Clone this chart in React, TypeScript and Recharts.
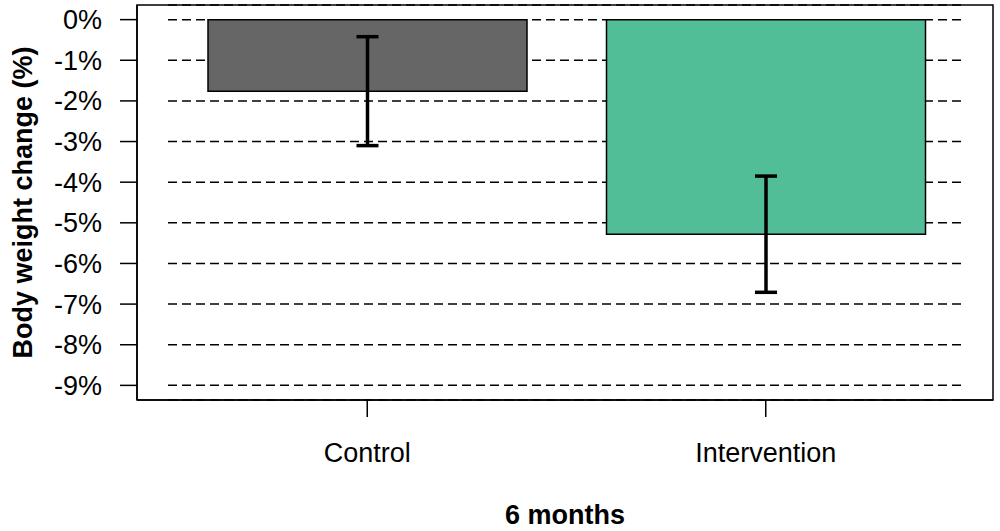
import { BarChart, Bar, XAxis, YAxis, CartesianGrid, ErrorBar, Cell } from "recharts";

const groups = ["Control", "Intervention"];
const meanChange = [-1.76, -5.28];
const errorHalf = [1.34, 1.43];
const yTicks = [0, -1, -2, -3, -4, -5, -6, -7, -8, -9];

const barColors = ["#666666", "#52BE98"];
const FONT = "'Liberation Sans', Arial, sans-serif";
const PAD_L = 31;
const PAD_R = 28;

const data = groups.map((g, i) => ({ name: g, value: meanChange[i], err: errorHalf[i] }));

// dashed grid lines span only the padded band range; the plot box is drawn once with the first line
const gridLine = (p: any) => (
  <g key={p.key}>
    {p.index === 0 && p.height != null ? (
      <rect x={p.x} y={p.y} width={p.width} height={p.height} fill="none" stroke="#000" strokeWidth={1.5} />
    ) : null}
    <line
      x1={p.x1 + PAD_L}
      x2={p.x2 - PAD_R}
      y1={p.y1}
      y2={p.y2}
      stroke="#000"
      strokeWidth={1.5}
      strokeDasharray="9 5"
    />
  </g>
);

export default function App() {
  return (
    <div style={{ width: 1000, height: 531, background: "#fff", fontFamily: FONT }}>
      <style>{`body{margin:0;background:#fff}`}</style>
      <BarChart
        width={1000}
        height={531}
        data={data}
        margin={{ top: 5, right: 7, bottom: 0, left: 0 }}
        barCategoryGap={0}
      >
        <CartesianGrid vertical={false} horizontal={gridLine} />
        <XAxis
          dataKey="name"
          height={131}
          padding={{ left: PAD_L, right: PAD_R }}
          axisLine={{ stroke: "#000", strokeWidth: 1.5 }}
          tickLine={{ stroke: "#000", strokeWidth: 1.5 }}
          tickSize={17}
          tickMargin={26}
          tick={{ fill: "#000", fontSize: 27, fontFamily: FONT }}
          label={{
            content: (props: any) => {
              const vb = props.viewBox;
              return (
                <text
                  x={vb.x + vb.width / 2}
                  y={524}
                  textAnchor="middle"
                  fontSize={27}
                  fontWeight="bold"
                  fontFamily={FONT}
                  fill="#000"
                >
                  6 months
                </text>
              );
            },
          }}
        />
        <YAxis
          width={137}
          domain={[-9.36, 0.36]}
          ticks={yTicks}
          interval={0}
          allowDataOverflow
          tickFormatter={(v: number) => `${v}%`}
          axisLine={{ stroke: "#000", strokeWidth: 1.5 }}
          tickLine={{ stroke: "#000", strokeWidth: 1.5 }}
          tickSize={17}
          tickMargin={18}
          tick={{ fill: "#000", fontSize: 27, fontFamily: FONT }}
          label={{
            content: (props: any) => {
              const vb = props.viewBox;
              const cy = vb.y + vb.height / 2;
              return (
                <text
                  x={32}
                  y={cy}
                  transform={`rotate(-90, 32, ${cy})`}
                  textAnchor="middle"
                  fontSize={27}
                  fontWeight="bold"
                  fontFamily={FONT}
                  fill="#000"
                >
                  Body weight change (%)
                </text>
              );
            },
          }}
        />
        <Bar dataKey="value" barSize={319} stroke="#000" strokeWidth={1.5} isAnimationActive={false}>
          {data.map((_, i) => (
            <Cell key={i} fill={barColors[i]} />
          ))}
          <ErrorBar dataKey="err" direction="y" width={11} stroke="#000" strokeWidth={3.5} />
        </Bar>
      </BarChart>
    </div>
  );
}
